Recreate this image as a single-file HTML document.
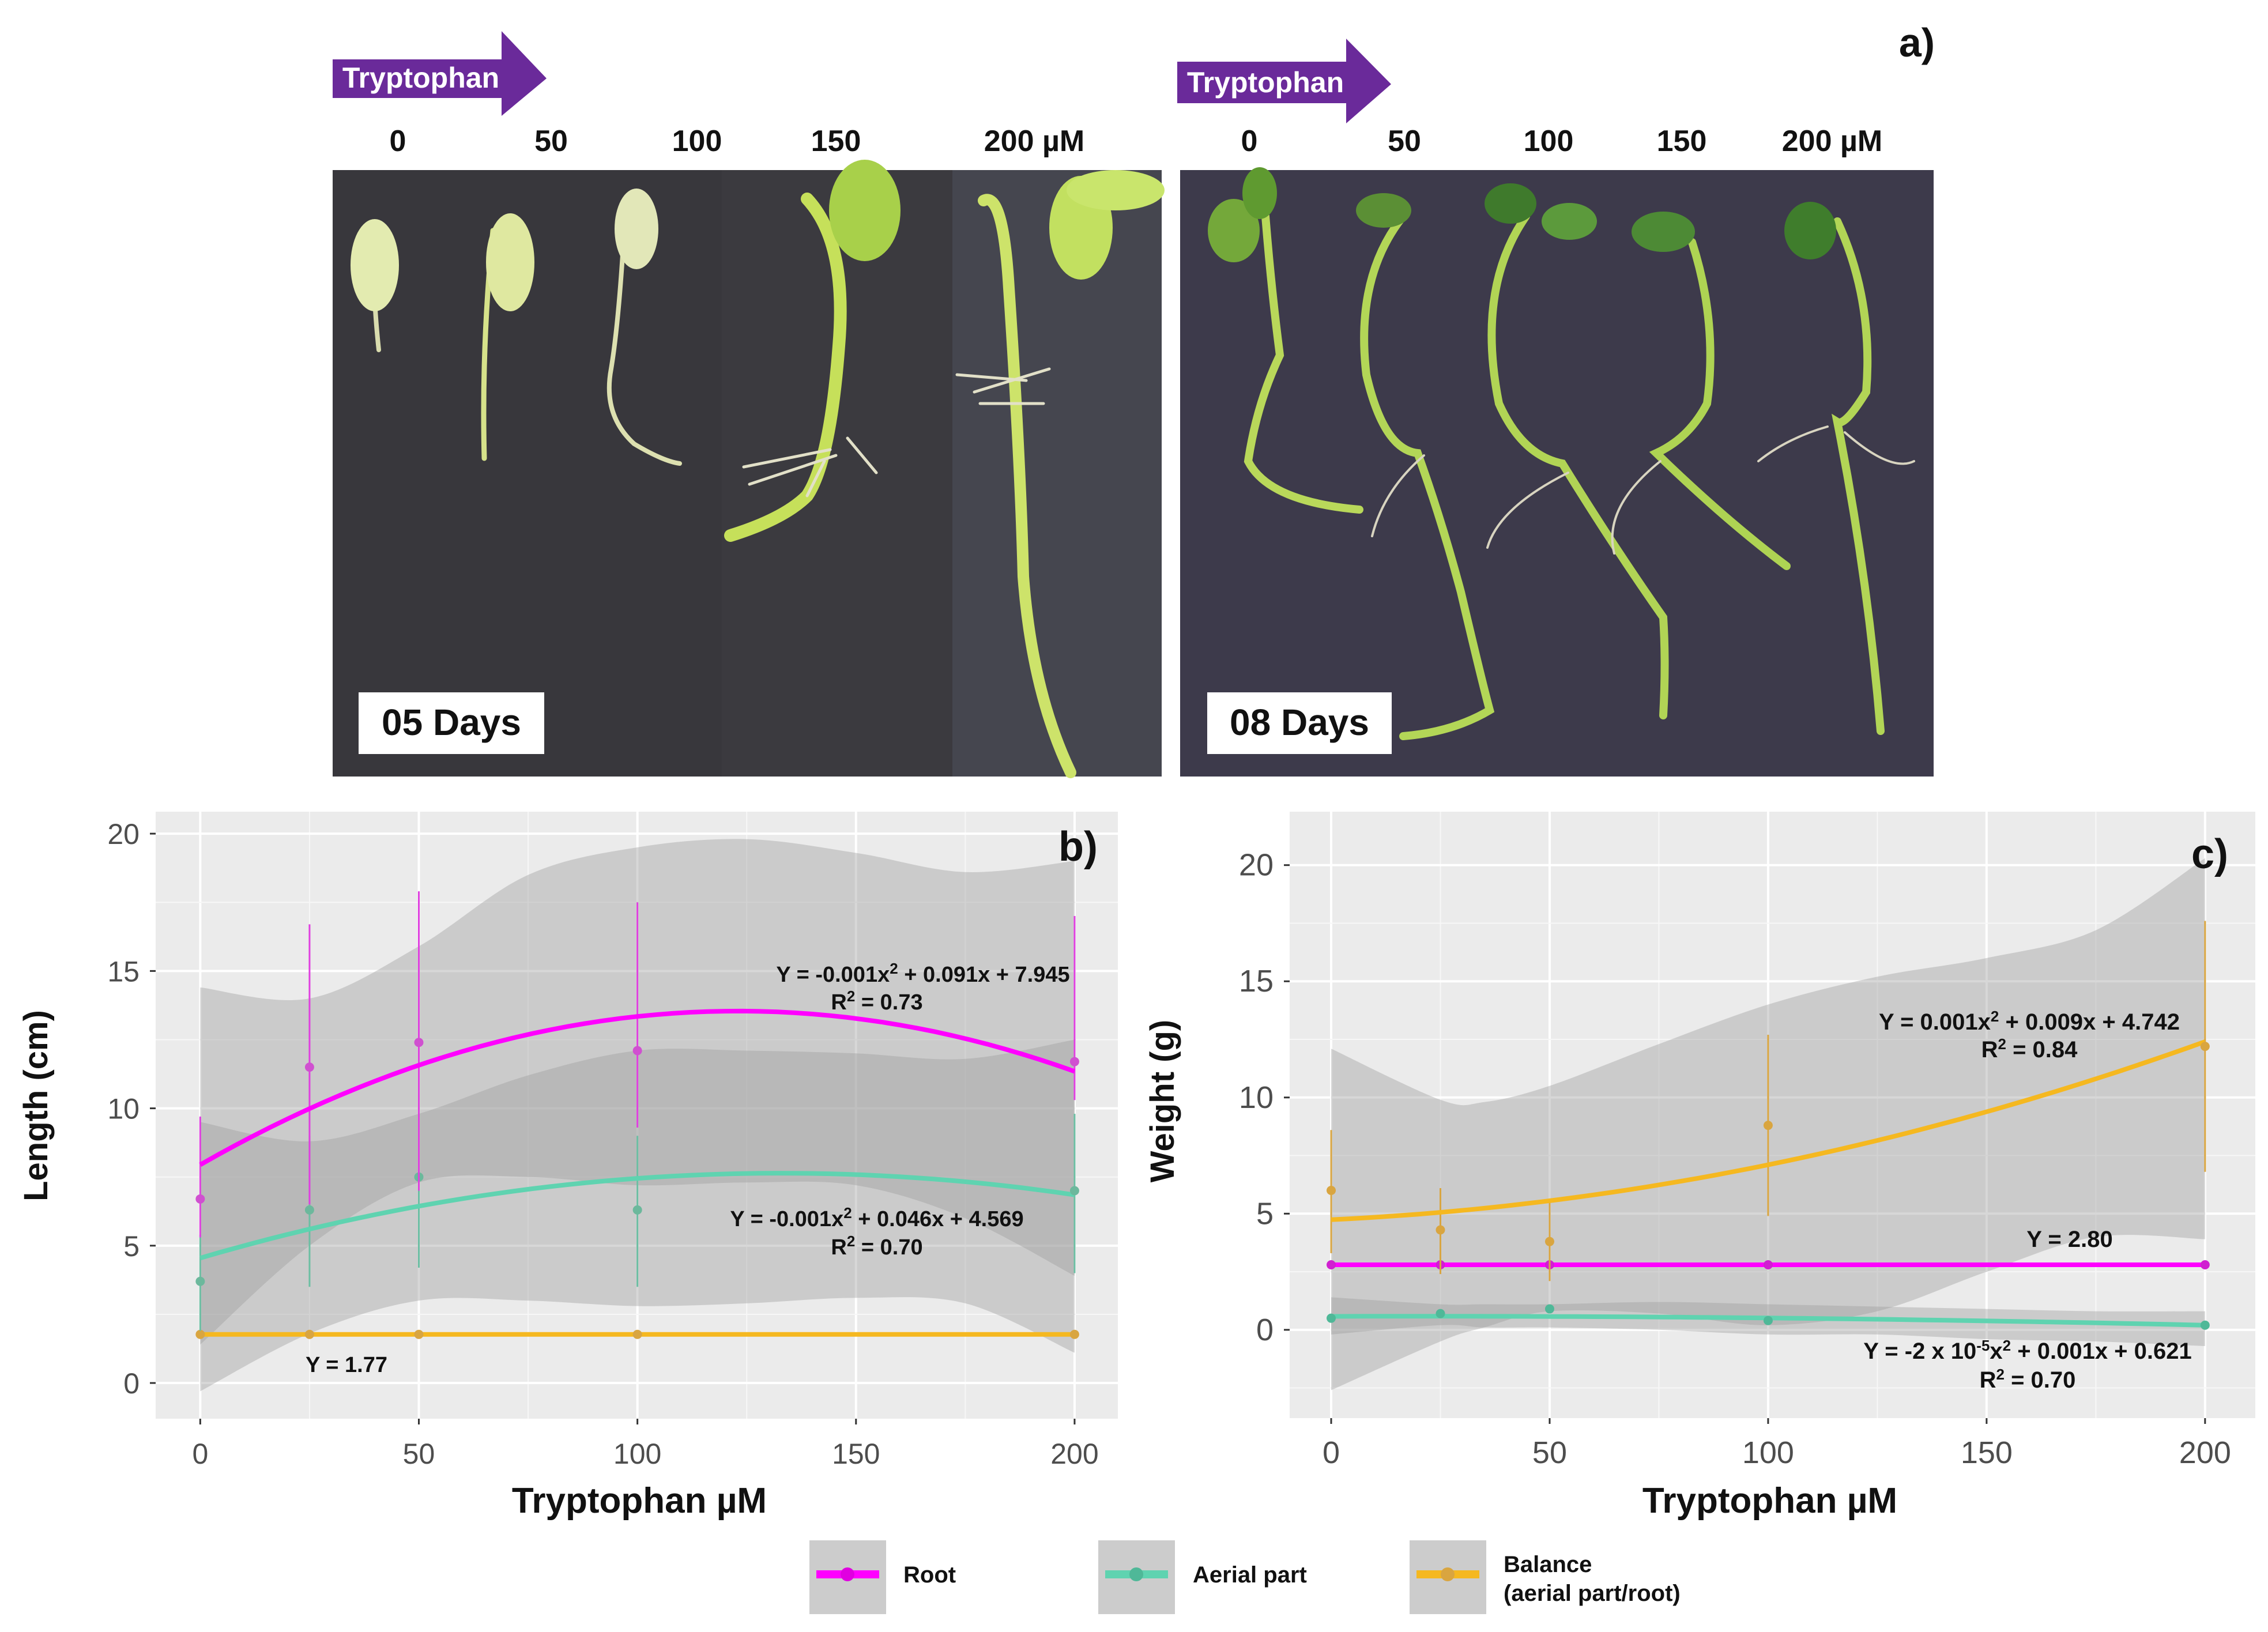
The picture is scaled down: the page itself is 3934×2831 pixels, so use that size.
<!DOCTYPE html>
<html><head><meta charset="utf-8"><style>
html,body{margin:0;padding:0;background:#fff;}
svg{display:block;}
.tick{font-family:"Liberation Sans",sans-serif;font-size:50px;fill:#4d4d4d;}
.tickn{font-family:"Liberation Sans Narrow","Liberation Sans",sans-serif;font-size:54px;fill:#4d4d4d;}
.eq{font-family:"Liberation Sans",sans-serif;font-size:38px;font-weight:bold;fill:#111;}
.eqn{font-family:"Liberation Sans Narrow","Liberation Sans",sans-serif;font-size:40px;font-weight:bold;fill:#111;}
.ttl{font-family:"Liberation Sans",sans-serif;font-size:58px;font-weight:bold;fill:#111;}
.ttln{font-family:"Liberation Sans Narrow","Liberation Sans",sans-serif;font-size:62px;font-weight:bold;fill:#111;}
.lab{font-family:"Liberation Sans Narrow","Liberation Sans",sans-serif;font-size:52px;font-weight:bold;fill:#111;}
</style></head><body>
<svg id="fig" width="3934" height="2831" viewBox="0 0 3934 2831" xmlns="http://www.w3.org/2000/svg">
<g>
  <rect x="577" y="295" width="1438" height="1052" fill="#38373c"/>
  <rect x="1252" y="295" width="400" height="1052" fill="#3b3a3f"/>
  <rect x="1652" y="295" width="363" height="1052" fill="#45464f"/>
  <rect x="2047" y="295" width="1307" height="1052" fill="#3d3a4b"/>
  <g fill="none" stroke-linecap="round">
    <path d="M650 520 Q652 560 657 607" stroke="#d9dcae" stroke-width="8"/>
    <path d="M855 400 Q835 600 840 795" stroke="#d6e28a" stroke-width="9"/>
    <path d="M1085 357 Q1075 550 1060 640 Q1045 720 1100 770 Q1150 800 1179 804" stroke="#dde0b0" stroke-width="8"/>
    <path d="M1400 345 Q1470 420 1455 600 Q1440 800 1400 860 Q1360 900 1267 929" stroke="#c6e05a" stroke-width="22"/>
    <path d="M1290 810 L1440 780 M1300 840 L1450 790 M1470 760 L1520 820 M1430 800 L1400 860" stroke="#e2e0c8" stroke-width="5"/>
    <path d="M1706 348 Q1740 330 1750 500 Q1770 800 1775 1000 Q1790 1200 1857 1340" stroke="#cde36a" stroke-width="20"/>
    <path d="M1660 650 L1780 660 M1690 680 L1820 640 M1700 700 L1810 700" stroke="#e2e0c8" stroke-width="5"/>
    <ellipse cx="650" cy="460" rx="42" ry="80" fill="#e3ebb0" stroke="none"/>
    <ellipse cx="885" cy="455" rx="42" ry="85" fill="#dfe8a0" stroke="none"/>
    <ellipse cx="1104" cy="397" rx="38" ry="70" fill="#e2e7b8" stroke="none"/>
    <ellipse cx="1500" cy="365" rx="62" ry="88" fill="#a8d04a" stroke="none"/>
    <ellipse cx="1875" cy="395" rx="55" ry="90" fill="#c2e060" stroke="none"/>
    <ellipse cx="1935" cy="330" rx="85" ry="35" fill="#c9e56c" stroke="none"/>
  </g>
  <g fill="none" stroke-linecap="round">
    <path d="M2195 375 Q2205 500 2220 616 Q2180 700 2165 800 Q2200 870 2358 884" stroke="#b9d85a" stroke-width="14"/>
    <path d="M2434 375 Q2350 480 2370 650 Q2400 780 2459 786 Q2500 900 2534 1027 Q2570 1180 2584 1232 Q2520 1270 2434 1277" stroke="#b3d657" stroke-width="14"/>
    <path d="M2647 375 Q2560 500 2600 700 Q2640 790 2710 804 Q2800 950 2885 1071 Q2890 1150 2885 1241" stroke="#b1d455" stroke-width="14"/>
    <path d="M2935 420 Q2980 560 2961 700 Q2930 760 2873 786 Q2990 900 3099 982" stroke="#aed353" stroke-width="14"/>
    <path d="M3187 384 Q3250 520 3237 680 Q3200 740 3187 732 Q3240 1000 3262 1268" stroke="#b2d556" stroke-width="14"/>
    <path d="M2470 790 Q2400 850 2380 930 M2720 820 Q2600 880 2580 950 M2880 800 Q2780 880 2800 960 M3170 740 Q3100 760 3050 800 M3200 750 Q3280 820 3320 800" stroke="#d8d4c0" stroke-width="4"/>
    <ellipse cx="2140" cy="400" rx="45" ry="55" fill="#74a83a" stroke="none"/>
    <ellipse cx="2185" cy="335" rx="30" ry="45" fill="#5f9a30" stroke="none"/>
    <ellipse cx="2400" cy="365" rx="48" ry="30" fill="#5b8f35" stroke="none"/>
    <ellipse cx="2620" cy="353" rx="45" ry="35" fill="#3f7a2c" stroke="none"/>
    <ellipse cx="2722" cy="384" rx="48" ry="32" fill="#5c9a3c" stroke="none"/>
    <ellipse cx="2885" cy="402" rx="55" ry="35" fill="#4d8a35" stroke="none"/>
    <ellipse cx="3140" cy="400" rx="45" ry="50" fill="#3f7d2c" stroke="none"/>
  </g>
  <rect x="622" y="1201" width="322" height="107" fill="#fff"/>
  <text x="783" y="1275" class="lab" text-anchor="middle" style="font-size:64px">05 Days</text>
  <rect x="2094" y="1201" width="320" height="107" fill="#fff"/>
  <text x="2254" y="1275" class="lab" text-anchor="middle" style="font-size:64px">08 Days</text>
  <path d="M577 103 H870 V54 L948 136 L870 201 V170 H577 Z" fill="#6a2a9a"/>
  <text x="730" y="152" class="lab" text-anchor="middle" style="fill:#fff;font-size:50px">Tryptophan</text>
  <path d="M2042 107 H2335 V67 L2413 146 L2335 214 V179 H2042 Z" fill="#6a2a9a"/>
  <text x="2195" y="160" class="lab" text-anchor="middle" style="fill:#fff;font-size:50px">Tryptophan</text>
  <g class="lab" text-anchor="middle">
    <text x="690" y="262">0</text><text x="956" y="262">50</text><text x="1209" y="262">100</text><text x="1450" y="262">150</text><text x="1794" y="262">200 µM</text>
    <text x="2167" y="262">0</text><text x="2436" y="262">50</text><text x="2686" y="262">100</text><text x="2917" y="262">150</text><text x="3178" y="262">200 µM</text>
  </g>
  <text x="3325" y="98" class="lab" text-anchor="middle" style="font-size:70px">a)</text>
</g>
<g id="chartB"></g>
<g id="chartC"></g>
<g>
  <g>
    <rect x="1404" y="2672" width="133" height="128" fill="#cccccc"/>
    <line x1="1416" y1="2731" x2="1525" y2="2731" stroke="#ff00ff" stroke-width="14"/>
    <circle cx="1470" cy="2731" r="12" fill="#e000e0"/>
    <text x="1567" y="2745" class="lab" style="font-size:40px">Root</text>
  </g>
  <g>
    <rect x="1905" y="2672" width="133" height="128" fill="#cccccc"/>
    <line x1="1917" y1="2731" x2="2026" y2="2731" stroke="#5fd3b0" stroke-width="14"/>
    <circle cx="1971" cy="2731" r="12" fill="#4fb898"/>
    <text x="2069" y="2745" class="lab" style="font-size:40px">Aerial part</text>
  </g>
  <g>
    <rect x="2445" y="2672" width="133" height="128" fill="#cccccc"/>
    <line x1="2457" y1="2731" x2="2566" y2="2731" stroke="#f5b820" stroke-width="14"/>
    <circle cx="2511" cy="2731" r="12" fill="#d9a540"/>
    <text x="2608" y="2727" class="lab" style="font-size:40px">Balance</text>
    <text x="2608" y="2777" class="lab" style="font-size:40px">(aerial part/root)</text>
  </g>
</g>
</svg>
<script>
// ---- Chart b data (Length) ----
const bX = [0, 25, 50, 100, 200];
const bRootMean = [6.7, 11.5, 12.4, 12.1, 11.7];
const bRootLo = [5.3, 6.5, 7.0, 9.3, 10.3];
const bRootHi = [9.7, 16.7, 17.9, 17.5, 17.0];
const bAerialMean = [3.7, 6.3, 7.5, 6.3, 7.0];
const bAerialLo = [1.9, 3.5, 4.2, 3.5, 4.0];
const bAerialHi = [5.4, 9.0, 10.5, 9.0, 9.8];
const bBalanceMean = [1.77, 1.77, 1.77, 1.77, 1.77];
const bRootFit = [-0.00037, 0.091, 7.945];
const bAerialFit = [-0.000175, 0.0465, 4.55];
const bBalanceFit = [0, 0, 1.77];
const bBandX = [0, 25, 50, 75, 100, 125, 150, 175, 200];
const bRootBandHi = [14.4, 14.0, 15.9, 18.5, 19.5, 19.8, 19.3, 18.6, 19.0];
const bRootBandLo = [1.4, 5.0, 7.3, 7.5, 7.2, 7.3, 7.2, 6.0, 3.9];
const bAerialBandHi = [9.5, 8.8, 9.8, 11.2, 12.1, 12.1, 12.0, 11.8, 12.5];
const bAerialBandLo = [-0.3, 1.8, 3.0, 3.0, 2.8, 2.9, 3.1, 2.9, 1.1];
const bXTicks = [0, 50, 100, 150, 200];
const bYTicks = [0, 5, 10, 15, 20];
// ---- Chart c data (Weight) ----
const cX = [0, 25, 50, 100, 200];
const cBalanceMean = [6.0, 4.3, 3.8, 8.8, 12.2];
const cBalanceLo = [3.3, 2.4, 2.1, 4.9, 6.8];
const cBalanceHi = [8.6, 6.1, 5.5, 12.7, 17.6];
const cRootMean = [2.80, 2.80, 2.80, 2.80, 2.80];
const cAerialMean = [0.5, 0.7, 0.9, 0.4, 0.2];
const cBalanceFit = [0.000147, 0.0089, 4.742];
const cRootFit = [0, 0, 2.80];
const cAerialFit = [-0.000012, 0.0005, 0.58];
const cBandX = [0, 25, 35, 50, 75, 100, 125, 150, 175, 200];
const cBalBandHi = [12.1, 9.9, 9.8, 10.5, 12.3, 14.0, 15.2, 16.0, 17.2, 20.3];
const cBalBandLo = [-2.6, -0.5, 0.1, 0.8, 0.7, 0.2, 0.8, 2.5, 4.0, 3.9];
const cAerBandHi = [1.4, 1.1, 1.1, 1.1, 1.2, 1.1, 1.0, 0.9, 0.8, 0.8];
const cAerBandLo = [-0.2, 0.2, 0.1, 0.1, 0.0, -0.2, -0.2, -0.4, -0.5, -0.7];
const cXTicks = [0, 50, 100, 150, 200];
const cYTicks = [0, 5, 10, 15, 20];

const NS = 'http://www.w3.org/2000/svg';
function mk(parent, tag, attrs, txt) {
  const e = document.createElementNS(NS, tag);
  for (const k in attrs) e.setAttribute(k, attrs[k]);
  if (txt !== undefined) e.textContent = txt;
  parent.appendChild(e);
  return e;
}
function poly(f, x) { return f[0] * x * x + f[1] * x + f[2]; }
function smooth(pts, start) {
  let d = start ? 'M' + pts[0][0].toFixed(1) + ' ' + pts[0][1].toFixed(1) : 'L' + pts[0][0].toFixed(1) + ' ' + pts[0][1].toFixed(1);
  for (let i = 0; i < pts.length - 1; i++) {
    const p0 = pts[Math.max(0, i - 1)], p1 = pts[i], p2 = pts[i + 1], p3 = pts[Math.min(pts.length - 1, i + 2)];
    const c1x = p1[0] + (p2[0] - p0[0]) / 6, c1y = p1[1] + (p2[1] - p0[1]) / 6;
    const c2x = p2[0] - (p3[0] - p1[0]) / 6, c2y = p2[1] - (p3[1] - p1[1]) / 6;
    d += 'C' + c1x.toFixed(1) + ' ' + c1y.toFixed(1) + ' ' + c2x.toFixed(1) + ' ' + c2y.toFixed(1) + ' ' + p2[0].toFixed(1) + ' ' + p2[1].toFixed(1);
  }
  return d;
}

function drawChart(g, o) {
  const sx = v => o.px0 + (v - o.xmin) / (o.xmax - o.xmin) * (o.px1 - o.px0);
  const sy = v => o.py1 - (v - o.ymin) / (o.ymax - o.ymin) * (o.py1 - o.py0);
  const bg = mk(g, 'rect', {x: o.px0, y: o.py0, width: o.px1 - o.px0, height: o.py1 - o.py0, fill: '#ebebeb'});
  
  
  const grid = mk(g, 'g', {});
  
  
  for (let i = 0; i < o.xTicks.length; i++) {
    const v = o.xTicks[i];
    mk(grid, 'line', {x1: sx(v), x2: sx(v), y1: o.py0, y2: o.py1, stroke: '#fff', 'stroke-width': 4});
    if (i < o.xTicks.length - 1) {
      const m = (v + o.xTicks[i + 1]) / 2;
      mk(grid, 'line', {x1: sx(m), x2: sx(m), y1: o.py0, y2: o.py1, stroke: '#f7f7f7', 'stroke-width': 2});
    }
  }
  for (let i = 0; i < o.yTicks.length; i++) {
    const v = o.yTicks[i];
    mk(grid, 'line', {x1: o.px0, x2: o.px1, y1: sy(v), y2: sy(v), stroke: '#fff', 'stroke-width': 4});
    const m = v + (o.yTicks[1] - o.yTicks[0]) / 2;
    if (m < o.ymax) mk(grid, 'line', {x1: o.px0, x2: o.px1, y1: sy(m), y2: sy(m), stroke: '#f7f7f7', 'stroke-width': 2});
    if (i === 0) {
      const m2 = v - (o.yTicks[1] - o.yTicks[0]) / 2;
      if (m2 > o.ymin) mk(grid, 'line', {x1: o.px0, x2: o.px1, y1: sy(m2), y2: sy(m2), stroke: '#f7f7f7', 'stroke-width': 2});
    }
  }
  o.bands.forEach(b => {
    const hi = b.x.map((x, i) => [sx(x), sy(b.hi[i])]);
    const lo = b.x.map((x, i) => [sx(x), sy(b.lo[i])]).reverse();
    const d = smooth(hi, true) + smooth(lo, false) + 'Z';
    const p = mk(g, 'path', {d: d, fill: '#9a9a9a', 'fill-opacity': 0.4});
    
    
  });
  o.series.forEach(s => {
    const sg = mk(g, 'g', {});
    
    
    s.x.forEach((x, i) => {
      const eb = mk(sg, 'line', {x1: sx(x), x2: sx(x), y1: sy(s.lo[i]), y2: sy(s.hi[i]), stroke: s.err, 'stroke-width': 3});
      
      
    });
    let d = '';
    for (let k = 0; k <= 50; k++) {
      const x = s.x[0] + (s.x[s.x.length - 1] - s.x[0]) * k / 50;
      d += (k ? 'L' : 'M') + sx(x).toFixed(1) + ' ' + sy(poly(s.fit, x)).toFixed(1);
    }
    const fl = mk(sg, 'path', {d: d, fill: 'none', stroke: s.color, 'stroke-width': 8});
    
    
    s.x.forEach((x, i) => {
      const c = mk(sg, 'circle', {cx: sx(x), cy: sy(s.mean[i]), r: 8, fill: s.pt});
      
      
    });
  });
  const ax = mk(g, 'g', {});
  
  
  o.xTicks.forEach(v => {
    mk(ax, 'line', {x1: sx(v), x2: sx(v), y1: o.py1, y2: o.py1 + 10, stroke: '#333', 'stroke-width': 3});
    const t = mk(ax, 'text', {x: sx(v), y: o.py1 + 78, 'text-anchor': 'middle', class: o.tickClass}, String(v));
    
    
  });
  const ay = mk(g, 'g', {});
  
  
  o.yTicks.forEach(v => {
    mk(ay, 'line', {x1: o.px0 - 10, x2: o.px0, y1: sy(v), y2: sy(v), stroke: '#333', 'stroke-width': 3});
    const t = mk(ay, 'text', {x: o.px0 - 28, y: sy(v) + 18, 'text-anchor': 'end', class: o.tickClass}, String(v));
    
    
  });
  return {sx, sy};
}

const gB = document.getElementById('chartB');
drawChart(gB, {
  px0: 270, px1: 1939, py0: 1408, py1: 2461, xmin: -10.2, xmax: 209.9, ymin: -1.3, ymax: 20.8,
  xTicks: bXTicks, yTicks: bYTicks, tickClass: 'tick',
  bands: [
    {name: 'ci-band-root', x: bBandX, hi: bRootBandHi, lo: bRootBandLo},
    {name: 'ci-band-aerial', x: bBandX, hi: bAerialBandHi, lo: bAerialBandLo}
  ],
  series: [
    {name: 'series-balance', x: bX, mean: bBalanceMean, lo: bBalanceMean, hi: bBalanceMean, fit: bBalanceFit, color: '#f5b820', err: '#e0a838', pt: '#d9a540'},
    {name: 'series-aerial', x: bX, mean: bAerialMean, lo: bAerialLo, hi: bAerialHi, fit: bAerialFit, color: '#5fd3b0', err: '#6cbfa3', pt: '#6cb89c'},
    {name: 'series-root', x: bX, mean: bRootMean, lo: bRootLo, hi: bRootHi, fit: bRootFit, color: '#ff00ff', err: '#e040e0', pt: '#d050d0'}
  ]
});
const gC = document.getElementById('chartC');
drawChart(gC, {
  px0: 2237, px1: 3912, py0: 1408, py1: 2460, xmin: -9.5, xmax: 211.5, ymin: -3.8, ymax: 22.3,
  xTicks: cXTicks, yTicks: cYTicks, tickClass: 'tickn',
  bands: [
    {name: 'ci-band-balance', x: cBandX, hi: cBalBandHi, lo: cBalBandLo},
    {name: 'ci-band-aerial', x: cBandX, hi: cAerBandHi, lo: cAerBandLo}
  ],
  series: [
    {name: 'series-aerial', x: cX, mean: cAerialMean, lo: cAerialMean, hi: cAerialMean, fit: cAerialFit, color: '#5fd3b0', err: '#6cbfa3', pt: '#4fb898'},
    {name: 'series-root', x: cX, mean: cRootMean, lo: cRootMean, hi: cRootMean, fit: cRootFit, color: '#ff00ff', err: '#e040e0', pt: '#d020d0'},
    {name: 'series-balance', x: cX, mean: cBalanceMean, lo: cBalanceLo, hi: cBalanceHi, fit: cBalanceFit, color: '#f5b820', err: '#d9a540', pt: '#d9a540'}
  ]
});

function txt(parent, x, y, cls, s, name, extra) {
  const t = mk(parent, 'text', Object.assign({x: x, y: y, 'text-anchor': 'middle', class: cls}, extra || {}));
  t.innerHTML = s;
  
  
  return t;
}
const sup = '<tspan dy="-14" font-size="26">2</tspan><tspan dy="14"> </tspan>';
txt(gB, 1601, 1703, 'eq', 'Y = -0.001x' + sup + '+ 0.091x + 7.945', 'equation-root');
txt(gB, 1521, 1751, 'eq', 'R' + '<tspan dy="-14" font-size="26">2</tspan><tspan dy="14"> = 0.73</tspan>', 'r2-root');
txt(gB, 1521, 2127, 'eq', 'Y = -0.001x' + sup + '+ 0.046x + 4.569', 'equation-aerial');
txt(gB, 1521, 2176, 'eq', 'R' + '<tspan dy="-14" font-size="26">2</tspan><tspan dy="14"> = 0.70</tspan>', 'r2-aerial');
txt(gB, 601, 2380, 'eq', 'Y = 1.77', 'equation-balance');
txt(gB, 1870, 1493, 'ttl', 'b)', 'panel-b-label', {style: 'font-size:72px'});
txt(gB, 1109, 2624, 'ttln', 'Tryptophan µM', 'x-axis-title');
txt(gB, 0, 0, 'ttl', 'Length (cm)', 'y-axis-title', {transform: 'translate(82 1918) rotate(-90)'});

txt(gC, 3520, 1786, 'eqn', 'Y = 0.001x' + sup + '+ 0.009x + 4.742', 'equation-balance');
txt(gC, 3520, 1834, 'eqn', 'R' + '<tspan dy="-14" font-size="26">2</tspan><tspan dy="14"> = 0.84</tspan>', 'r2-balance');
txt(gC, 3590, 2163, 'eqn', 'Y = 2.80', 'equation-root');
txt(gC, 3517, 2357, 'eqn', 'Y = -2 x 10<tspan dy="-14" font-size="26">-5</tspan><tspan dy="14">x</tspan><tspan dy="-14" font-size="26">2</tspan><tspan dy="14"> + 0.001x + 0.621</tspan>', 'equation-aerial');
txt(gC, 3517, 2407, 'eqn', 'R' + '<tspan dy="-14" font-size="26">2</tspan><tspan dy="14"> = 0.70</tspan>', 'r2-aerial');
txt(gC, 3833, 1506, 'ttl', 'c)', 'panel-c-label', {style: 'font-size:72px'});
txt(gC, 3070, 2624, 'ttln', 'Tryptophan µM', 'x-axis-title');
txt(gC, 0, 0, 'ttl', 'Weight (g)', 'y-axis-title', {transform: 'translate(2036 1910) rotate(-90)'});
</script>
</body></html>
